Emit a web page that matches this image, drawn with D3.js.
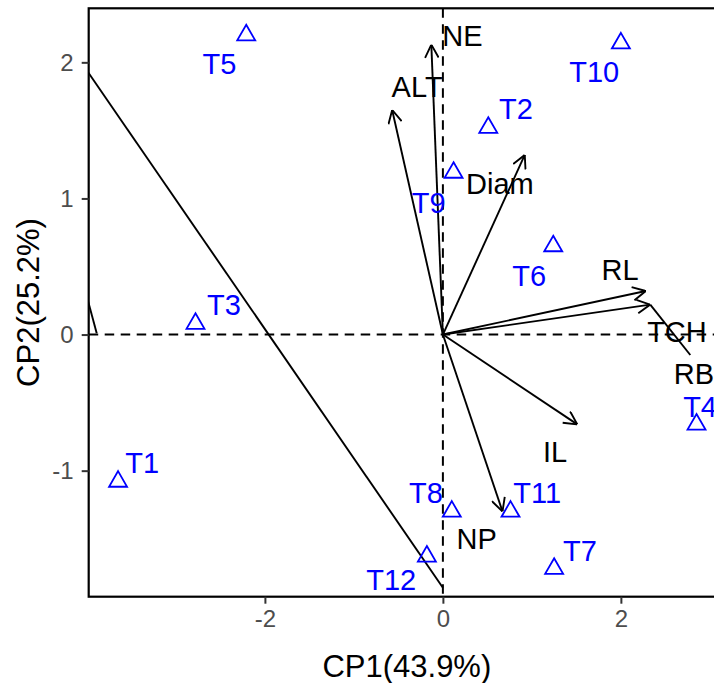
<!DOCTYPE html>
<html>
<head>
<meta charset="utf-8">
<script src="https://cdn.jsdelivr.net/npm/d3@7"></script>
<style>
  body { margin: 0; background: #fff; overflow: hidden; }
  text { font-family: "Liberation Sans", Arial, sans-serif; }
</style>
</head>
<body>
<div id="chart"></div>
<script>
// individuals (treatments) scores
const pointNames = ["T1", "T2", "T3", "T4", "T5", "T6", "T7", "T8", "T9", "T10", "T11", "T12"];
const pointX = [-3.65, 0.51, -2.78, 2.85, -2.21, 1.24, 1.25, 0.10, 0.12, 2.00, 0.76, -0.18];
const pointY = [-1.08, 1.52, 0.08, -0.66, 2.20, 0.65, -1.72, -1.30, 1.19, 2.14, -1.30, -1.63];
const pointLabelX = [-3.38, 0.82, -2.46, 2.89, -2.51, 0.97, 1.54, -0.19, -0.16, 1.70, 1.06, -0.58];
const pointLabelY = [-0.94, 1.66, 0.22, -0.53, 1.99, 0.43, -1.59, -1.16, 0.97, 1.93, -1.16, -1.80];

// variable loadings (arrows)
const varNames = ["NE", "ALT", "Diam", "RL", "TCH", "IL", "NP"];
const varX = [-0.13, -0.57, 0.92, 2.28, 2.33, 1.51, 0.67];
const varY = [2.13, 1.65, 1.32, 0.32, 0.22, -0.66, -1.30];
const varLabelNames = ["NE", "ALT", "Diam", "RL", "TCH", "RB", "IL", "NP"];
const varLabelX = [0.22, -0.29, 0.64, 1.99, 2.63, 2.82, 1.26, 0.38];
const varLabelY = [2.20, 1.82, 1.11, 0.48, 0.02, -0.29, -0.86, -1.50];

// stray segments in the original figure
const extraX1 = [2.33, 0, -3.89];
const extraY1 = [0.22, -1.86, 0.01];
const extraX2 = [2.78, -4.2, -4.1];
const extraY2 = [-0.15, 2.13, 0.52];

const xTicks = [-2, 0, 2];
const yTicks = [-1, 0, 1, 2];
const xTitle = "CP1(43.9%)";
const yTitle = "CP2(25.2%)";

const width = 714, height = 683;
const margin = { top: 8.3, right: -11, bottom: 86.3, left: 88.7 };
const innerWidth = width - margin.left - margin.right;
const innerHeight = height - margin.top - margin.bottom;

const svg = d3.select("#chart").append("svg")
    .attr("width", width).attr("height", height)
    .style("display", "block").style("overflow", "hidden");

const x = d3.scaleLinear().domain([-3.98, 3.17]).range([0, innerWidth]);
const y = d3.scaleLinear().domain([-1.926, 2.397]).range([innerHeight, 0]);

svg.append("defs").append("clipPath").attr("id", "clip")
    .append("rect").attr("width", innerWidth).attr("height", innerHeight);

svg.select("defs").append("marker")
    .attr("id", "arrow")
    .attr("viewBox", "0 0 10 10")
    .attr("refX", 10).attr("refY", 5)
    .attr("markerWidth", 15).attr("markerHeight", 15)
    .attr("markerUnits", "userSpaceOnUse")
    .attr("orient", "auto")
    .append("path")
    .attr("d", "M1.3,0.5 L10,5 L1.3,9.5")
    .attr("fill", "none").attr("stroke", "#000").attr("stroke-width", 1.25);

const g = svg.append("g").attr("transform", `translate(${margin.left},${margin.top})`);
const plot = g.append("g").attr("clip-path", "url(#clip)");

// reference lines
plot.append("line")
    .attr("x1", x(0)).attr("x2", x(0)).attr("y1", 0).attr("y2", innerHeight)
    .attr("stroke", "#000").attr("stroke-width", 2).attr("stroke-dasharray", "9.5,6.5");
plot.append("line")
    .attr("x1", 0).attr("x2", innerWidth).attr("y1", y(0)).attr("y2", y(0))
    .attr("stroke", "#000").attr("stroke-width", 2).attr("stroke-dasharray", "9.5,6.5");

// arrows
plot.selectAll(".arrow")
    .data(varNames.map((n, i) => ({ n, x: varX[i], y: varY[i] })))
    .enter().append("line")
    .attr("class", "arrow")
    .attr("x1", x(0)).attr("y1", y(0))
    .attr("x2", d => x(d.x)).attr("y2", d => y(d.y))
    .attr("stroke", "#000").attr("stroke-width", 1.9)
    .attr("marker-end", "url(#arrow)");

plot.selectAll(".extra")
    .data(extraX1.map((v, i) => ({ x1: v, y1: extraY1[i], x2: extraX2[i], y2: extraY2[i] })))
    .enter().append("line")
    .attr("class", "extra")
    .attr("x1", d => x(d.x1)).attr("y1", d => y(d.y1))
    .attr("x2", d => x(d.x2)).attr("y2", d => y(d.y2))
    .attr("stroke", "#000").attr("stroke-width", 1.9);

// points
const tri = d3.symbol().type(d3.symbolTriangle).size(140);
plot.selectAll(".pt")
    .data(pointNames.map((n, i) => ({ n, x: pointX[i], y: pointY[i] })))
    .enter().append("path")
    .attr("class", "pt")
    .attr("d", tri)
    .attr("transform", d => `translate(${x(d.x)},${y(d.y)})`)
    .attr("fill", "none").attr("stroke", "#0000FF").attr("stroke-width", 1.8);

plot.selectAll(".ptlab")
    .data(pointNames.map((n, i) => ({ n, x: pointLabelX[i], y: pointLabelY[i] })))
    .enter().append("text")
    .attr("class", "ptlab")
    .attr("x", d => x(d.x)).attr("y", d => y(d.y))
    .attr("dy", "0.36em").attr("text-anchor", "middle")
    .attr("font-size", 29).attr("fill", "#0000FF")
    .text(d => d.n);

plot.selectAll(".varlab")
    .data(varLabelNames.map((n, i) => ({ n, x: varLabelX[i], y: varLabelY[i] })))
    .enter().append("text")
    .attr("class", "varlab")
    .attr("x", d => x(d.x)).attr("y", d => y(d.y))
    .attr("dy", "0.36em").attr("text-anchor", "middle")
    .attr("font-size", 29).attr("fill", "#000")
    .text(d => d.n);

// panel border
g.append("rect")
    .attr("width", innerWidth).attr("height", innerHeight)
    .attr("fill", "none").attr("stroke", "#000").attr("stroke-width", 2.2);

// axes
const xAxis = g.append("g").attr("transform", `translate(0,${innerHeight})`)
    .call(d3.axisBottom(x).tickValues(xTicks).tickFormat(d3.format("d")).tickSize(7).tickPadding(6));
const yAxis = g.append("g")
    .call(d3.axisLeft(y).tickValues(yTicks).tickFormat(d3.format("d")).tickSize(7).tickPadding(8));
[xAxis, yAxis].forEach(a => {
    a.select(".domain").remove();
    a.selectAll(".tick line").attr("stroke", "#333").attr("stroke-width", 2);
    a.selectAll(".tick text").attr("fill", "#4D4D4D").attr("font-size", 24)
        .attr("font-family", "'Liberation Sans', Arial, sans-serif")
        .text(d => d < 0 ? "-" + Math.abs(d) : d);
});

svg.append("text")
    .attr("x", margin.left + innerWidth / 2).attr("y", 677)
    .attr("text-anchor", "middle").attr("font-size", 31).attr("fill", "#000")
    .text(xTitle);
svg.append("text")
    .attr("transform", `translate(39,${margin.top + innerHeight / 2}) rotate(-90)`)
    .attr("text-anchor", "middle").attr("font-size", 31).attr("fill", "#000")
    .text(yTitle);
</script>
</body>
</html>
